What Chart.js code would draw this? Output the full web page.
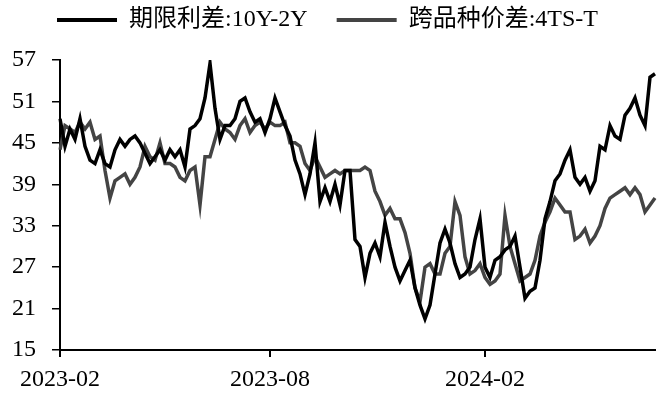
<!DOCTYPE html>
<html>
<head>
<meta charset="utf-8">
<script src="https://cdn.jsdelivr.net/npm/chart.js@4"></script>
<style>
  html, body { margin: 0; padding: 0; background: #fff; }
  #wrap { width: 664px; height: 398px; }
</style>
</head>
<body>
<div id="wrap"><canvas id="spreadChart"></canvas></div>
<script>
// 期限利差 10Y-2Y (black)
const termSpread = [
  48.5, 44.5, 47, 45.5, 48.5, 44.5, 42.5, 42, 44, 42,
  41.5, 44, 45.5, 44.5, 45.5, 46, 45, 43.5, 42, 43,
  44, 42.5, 44, 43, 44, 41.5, 47, 47.5, 48.5, 51.5,
  56.5, 50, 45.5, 47.5, 47.5, 48.5, 51, 51.5, 49.5, 48,
  48.5, 46.5, 48.5, 51.5, 49.5, 47.5, 46, 42.5, 40.5, 37.5,
  40.5, 45, 36.5, 38.5, 36.5, 39, 36, 41, 41, 31,
  30, 25.5, 29, 30.5, 28.5, 33.5, 30, 27, 25, 26.5,
  28, 24, 21.5, 19.5, 21.5, 26, 30.5, 32.5, 30.5, 27.5,
  25.5, 26, 27, 31, 34, 27, 25.5, 28, 28.5, 29.5,
  30, 31.5, 27, 22.5, 23.5, 24, 28, 34, 36.5, 39.5,
  40.5, 42.5, 44, 40, 39, 40, 38, 39.5, 44.5, 44,
  47.5, 46, 45.5, 49, 50, 51.5, 49, 47.5, 54.5, 55
];

// 跨品种价差 4TS-T (grey)
const crossSpread = [
  44, 47.5, 47, 46.5, 48, 47, 48, 45.5, 46, 41,
  37, 39.5, 40, 40.5, 39, 40, 41.5, 44.5, 43, 42.5,
  45, 42, 42, 41.5, 40, 39.5, 41, 41.5, 36, 43,
  43, 45.5, 48, 47, 46.5, 45.5, 47.5, 48.5, 46.5, 47.5,
  48, 47, 48, 47.5, 47.5, 48, 45, 45, 44.5, 42,
  41, 43, 41.5, 40, 40.5, 41, 40.5, 41, 41, 41,
  41, 41.5, 41, 38, 36.5, 34.5, 35.5, 34, 34, 32,
  29, 24, 22, 27, 27.5, 26, 26, 29, 30, 36.5,
  34.5, 28.5, 26, 26.5, 27.5, 25.5, 24.5, 25, 26, 34.5,
  30, 27.5, 25, 25.5, 26, 28, 31.5, 33.5, 35, 37,
  36, 35, 35, 31, 31.5, 32.5, 30.5, 31.5, 33, 35.5,
  37, 37.5, 38, 38.5, 37.5, 38.5, 37.5, 35, 36, 37
];

// x-axis labels and the point index where each one sits
const tickLabels = ['2023-02', '2023-08', '2024-02'];
const tickIndex = [0, 42, 85];

const labels = termSpread.map((v, i) => {
  const k = tickIndex.indexOf(i);
  return k >= 0 ? tickLabels[k] : '';
});

const fontFamily = '"Liberation Serif", "Times New Roman", "Noto Sans CJK SC", serif';

// adds some empty space under the legend
const legendSpacer = {
  id: 'legendSpacer',
  beforeInit(chart) {
    const fit = chart.legend.fit;
    chart.legend.fit = function() {
      fit.bind(chart.legend)();
      this.height += 18;
    };
  }
};

const ctx = document.getElementById('spreadChart').getContext('2d');
new Chart(ctx, {
  type: 'line',
  data: {
    labels: labels,
    datasets: [
      {
        label: '期限利差:10Y-2Y',
        data: termSpread,
        borderColor: '#000000',
        backgroundColor: '#000000',
        borderWidth: 3.5,
        pointRadius: 0,
        tension: 0
      },
      {
        label: '跨品种价差:4TS-T',
        data: crossSpread,
        borderColor: '#444444',
        backgroundColor: '#444444',
        borderWidth: 3.5,
        pointRadius: 0,
        tension: 0
      }
    ]
  },
  plugins: [legendSpacer],
  options: {
    responsive: true,
    maintainAspectRatio: false,
    animation: false,
    layout: {
      padding: { top: -21, right: 9, left: 0, bottom: 0 }
    },
    plugins: {
      tooltip: { enabled: false },
      legend: {
        display: true,
        position: 'top',
        labels: {
          color: '#000',
          font: { family: fontFamily, size: 24 },
          boxWidth: 60,
          boxHeight: 4,
          padding: 29,
          generateLabels: function(chart) {
            const items = Chart.defaults.plugins.legend.labels.generateLabels(chart);
            items.forEach(it => { it.lineWidth = 0; });
            return items;
          }
        }
      }
    },
    scales: {
      x: {
        type: 'category',
        offset: false,
        grid: {
          display: true,
          drawOnChartArea: false,
          drawTicks: true,
          tickLength: 7,
          color: '#000',
          lineWidth: 2
        },
        border: { display: true, color: '#000', width: 2 },
        ticks: {
          autoSkip: false,
          maxRotation: 0,
          minRotation: 0,
          padding: 8,
          color: '#000',
          font: { family: fontFamily, size: 24 },
          callback: function(value) {
            const lab = this.getLabelForValue(value);
            return lab === '' ? null : lab;
          }
        },
        afterFit: function(scale) { scale.height = 48; }
      },
      y: {
        min: 15,
        max: 57,
        grid: {
          display: true,
          drawOnChartArea: false,
          drawTicks: true,
          tickLength: 8,
          color: '#000',
          lineWidth: 1.5
        },
        border: { display: true, color: '#000', width: 2 },
        ticks: {
          stepSize: 6,
          padding: 16,
          color: '#000',
          font: { family: fontFamily, size: 24 }
        },
        afterFit: function(scale) { scale.width = 60; }
      }
    }
  }
});
</script>
</body>
</html>
